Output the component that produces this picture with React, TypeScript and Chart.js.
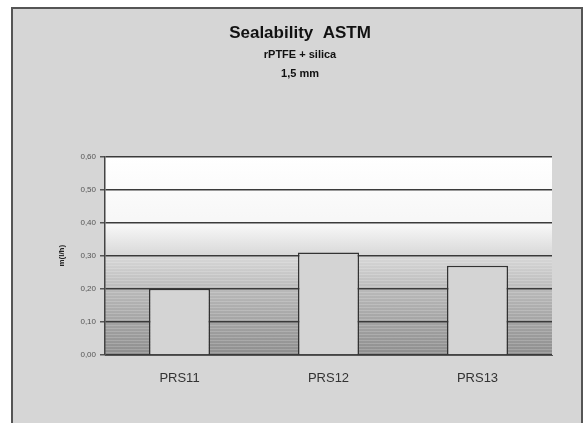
import React, { useEffect, useRef } from "react";
import { Chart, registerables } from "chart.js";

Chart.register(...registerables);

const categories = ["PRS11", "PRS12", "PRS13"];
const values = [0.2, 0.31, 0.27];
const titleText = "Sealability  ASTM";
const subtitleLines = ["rPTFE + silica", "1,5 mm"];
const yAxisTitle = "m(l/h)";
const yMin = 0;
const yMax = 0.6;
const yStep = 0.1;

const framePlugin = {
  id: "frame",
  beforeDraw(chart: any) {
    const { ctx, width, height } = chart;
    ctx.save();
    ctx.fillStyle = "#ffffff";
    ctx.fillRect(0, 0, width, height);
    ctx.fillStyle = "#d6d6d6";
    ctx.fillRect(12, 8, 570, height - 8);
    ctx.strokeStyle = "#555";
    ctx.lineWidth = 2;
    ctx.beginPath();
    ctx.moveTo(12, height);
    ctx.lineTo(12, 8);
    ctx.lineTo(582, 8);
    ctx.lineTo(582, height);
    ctx.stroke();
    const a = chart.chartArea;
    if (a) {
      const g = ctx.createLinearGradient(0, a.top, 0, a.bottom);
      g.addColorStop(0, "#ffffff");
      g.addColorStop(0.35, "#f6f6f6");
      g.addColorStop(0.5, "#d8d8d8");
      g.addColorStop(0.68, "#b8b8b8");
      g.addColorStop(1, "#8e8e8e");
      ctx.fillStyle = g;
      ctx.fillRect(a.left, a.top, a.right - a.left, a.bottom - a.top);
      ctx.strokeStyle = "rgba(255,255,255,0.18)";
      ctx.lineWidth = 1;
      for (let y = a.top + (a.bottom - a.top) * 0.5; y < a.bottom; y += 3) {
        ctx.beginPath();
        ctx.moveTo(a.left, Math.round(y) + 0.5);
        ctx.lineTo(a.right, Math.round(y) + 0.5);
        ctx.stroke();
      }
    }
    ctx.restore();
  },
};

export default function App() {
  const ref = useRef<HTMLCanvasElement>(null);
  useEffect(() => {
    if (!ref.current) return;
    const chart = new Chart(ref.current, {
      type: "bar",
      data: {
        labels: categories,
        datasets: [
          {
            data: values,
            backgroundColor: "#d4d4d4",
            borderColor: "#333333",
            borderWidth: 1.5,
            barPercentage: 0.41,
            categoryPercentage: 1,
          },
        ],
      },
      options: {
        responsive: false,
        animation: false,
        layout: { padding: { left: 48, right: 35, top: 18, bottom: 0 } },
        plugins: {
          legend: { display: false },
          tooltip: { enabled: false },
          title: {
            display: true,
            text: titleText,
            color: "#111",
            font: { family: "Liberation Sans, Arial, sans-serif", size: 17, weight: "bold", lineHeight: 1.2 },
            padding: { top: 5, bottom: 2 },
          },
          subtitle: {
            display: true,
            text: subtitleLines,
            color: "#111",
            font: { family: "Liberation Sans, Arial, sans-serif", size: 11, weight: "bold", lineHeight: 1.73 },
            padding: { top: 0, bottom: 73 },
          },
        },
        scales: {
          x: {
            grid: { display: false, drawTicks: false },
            border: { display: true, color: "#555", width: 1 },
            ticks: {
              color: "#333",
              padding: 16,
              font: { family: "Liberation Sans, Arial, sans-serif", size: 13 },
            },
            afterFit(scale: any) {
              scale.height = 68;
            },
          },
          y: {
            min: yMin,
            max: yMax,
            ticks: {
              stepSize: yStep,
              color: "#555",
              padding: 4,
              font: { family: "Liberation Sans, Arial, sans-serif", size: 8 },
              callback: (v: any) => Number(v).toFixed(2).replace(".", ","),
            },
            grid: {
              color: "#3a3a3a",
              lineWidth: 1.5,
              tickLength: 5,
              tickColor: "#555",
            },
            border: { display: true, color: "#444", width: 1.5 },
            title: {
              display: true,
              text: yAxisTitle,
              color: "#222",
              font: { family: "Liberation Sans, Arial, sans-serif", size: 8, weight: "bold" },
              padding: { top: 9, bottom: 4 },
            },
            afterFit(scale: any) {
              scale.width = 57;
            },
          },
        },
      },
      plugins: [framePlugin],
    });
    return () => chart.destroy();
  }, []);
  return (
    <div style={{ position: "fixed", left: 0, top: 0, width: 587, height: 423 }}>
      <canvas ref={ref} width={587} height={423} style={{ width: 587, height: 423 }} />
    </div>
  );
}
